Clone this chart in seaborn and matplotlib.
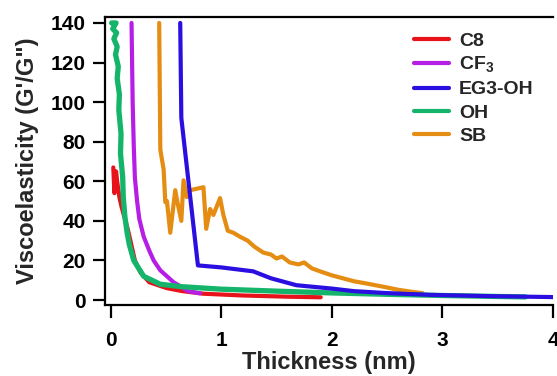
import matplotlib
matplotlib.use("Agg")
import matplotlib.pyplot as plt
import seaborn as sns

# thickness (nm) / viscoelasticity (G'/G'') traces
c8_x = [0.025, 0.035, 0.05, 0.06, 0.08, 0.10, 0.12, 0.15, 0.18, 0.22, 0.27, 0.35, 0.51, 0.65, 0.84, 1.2, 1.6, 1.9]
c8_y = [67, 54, 65, 60, 52, 47, 43, 37, 30, 20, 14, 9, 6, 4.5, 3.2, 2.3, 1.7, 1.4]

cf3_x = [0.19, 0.195, 0.20, 0.21, 0.22, 0.24, 0.26, 0.30, 0.35, 0.39, 0.45, 0.51, 0.57, 0.63, 0.70, 0.81]
cf3_y = [140, 120, 100, 78, 62, 50, 41, 32, 25, 20, 15, 12, 9, 7, 4.5, 3.4]

eg3_x = [0.63, 0.64, 0.79, 1.0, 1.29, 1.45, 1.68, 2.0, 2.2, 2.5, 2.9, 3.4, 4.0]
eg3_y = [140, 92, 17.5, 16.5, 14.5, 11, 7.5, 5.8, 4.5, 3.5, 2.6, 2.0, 1.5]

oh_x = [0.01, 0.05, 0.02, 0.055, 0.03, 0.06, 0.045, 0.07, 0.06, 0.08, 0.075, 0.095, 0.09, 0.11,
        0.115, 0.13, 0.15, 0.17, 0.21, 0.30, 0.45, 0.63, 1.0, 1.5, 2.0, 2.5, 3.0, 3.5, 3.75]
oh_y = [140, 140, 137, 135, 132, 128, 124, 118, 112, 104, 96, 84, 74, 62,
        52, 42, 34, 28, 20, 12, 8, 6.8, 5.5, 4.5, 3.6, 2.9, 2.3, 1.8, 1.6]

sb_x = [0.44, 0.45, 0.48, 0.495, 0.51, 0.54, 0.585, 0.61, 0.64, 0.66, 0.69, 0.72, 0.84, 0.865,
        0.90, 0.93, 0.99, 1.02, 1.06, 1.11, 1.14, 1.17, 1.24, 1.30, 1.38, 1.45, 1.50, 1.55,
        1.62, 1.70, 1.75, 1.82, 1.92, 2.0, 2.1, 2.2, 2.3, 2.46, 2.6, 2.72, 2.82]
sb_y = [140, 76, 66, 49.5, 50, 34, 55.5, 48, 40, 60.5, 52, 55.5, 57, 36,
        46, 43, 51.5, 43, 35, 34, 33, 32, 30, 27, 24, 23, 21, 22,
        19, 18, 19, 16, 14, 12.5, 11, 9.5, 8.5, 6.8, 5.2, 4.2, 3.5]

labels = ["C8", "CF$_{3}$", "EG3-OH", "OH", "SB"]
colors = ["#e8121a", "#b61ee6", "#2a0fe0", "#14b46a", "#e58c12"]
zorders = [2, 3, 6, 5, 4]
widths = [3, 3, 3, 3.8, 3]

sns.set_style("ticks")
plt.rcParams["font.family"] = ["Liberation Sans", "DejaVu Sans"]
plt.rcParams["font.weight"] = "bold"
plt.rcParams["mathtext.fontset"] = "custom"
plt.rcParams["mathtext.rm"] = "Liberation Sans:bold"
plt.rcParams["mathtext.bf"] = "Liberation Sans:bold"

fig = plt.figure(figsize=(5.57, 3.76), dpi=100)
ax = fig.add_axes([105 / 557, 1 - 305 / 376, (553 - 105) / 557, (305 - 17) / 376])

series = [(c8_x, c8_y), (cf3_x, cf3_y), (eg3_x, eg3_y), (oh_x, oh_y), (sb_x, sb_y)]
for (xs, ys), lab, col, z, w in zip(series, labels, colors, zorders, widths):
    sns.lineplot(x=xs, y=ys, sort=False, estimator=None, color=col, lw=w,
                 label=lab, ax=ax, zorder=z)

ax.set_xlim(-0.05, 4.0)
ax.set_ylim(-2.5, 143)
ax.set_xticks([0, 1, 2, 3, 4])
ax.set_yticks(range(0, 141, 20))
ax.spines["right"].set_visible(False)
for s in ["left", "bottom", "top"]:
    ax.spines[s].set_linewidth(1.6)
    ax.spines[s].set_color("black")
ax.tick_params(axis="both", direction="out", length=9, width=1.6, labelsize=15, colors="black")
ax.tick_params(axis="x", pad=10)
ax.tick_params(axis="y", pad=5)

ax.set_xlabel("Thickness (nm)", fontsize=17, fontweight="bold", labelpad=0.5)
ax.set_ylabel("Viscoelasticity (G'/G\")", fontsize=17, fontweight="bold", labelpad=8)

leg = ax.legend(loc="upper left", bbox_to_anchor=(0.66, 0.995), frameon=False,
                fontsize=14, handlelength=1.8, labelspacing=0.28, handletextpad=0.5,
                borderaxespad=0.3)
for line in leg.get_lines():
    line.set_linewidth(3)

fig.savefig("out.png", dpi=100)
